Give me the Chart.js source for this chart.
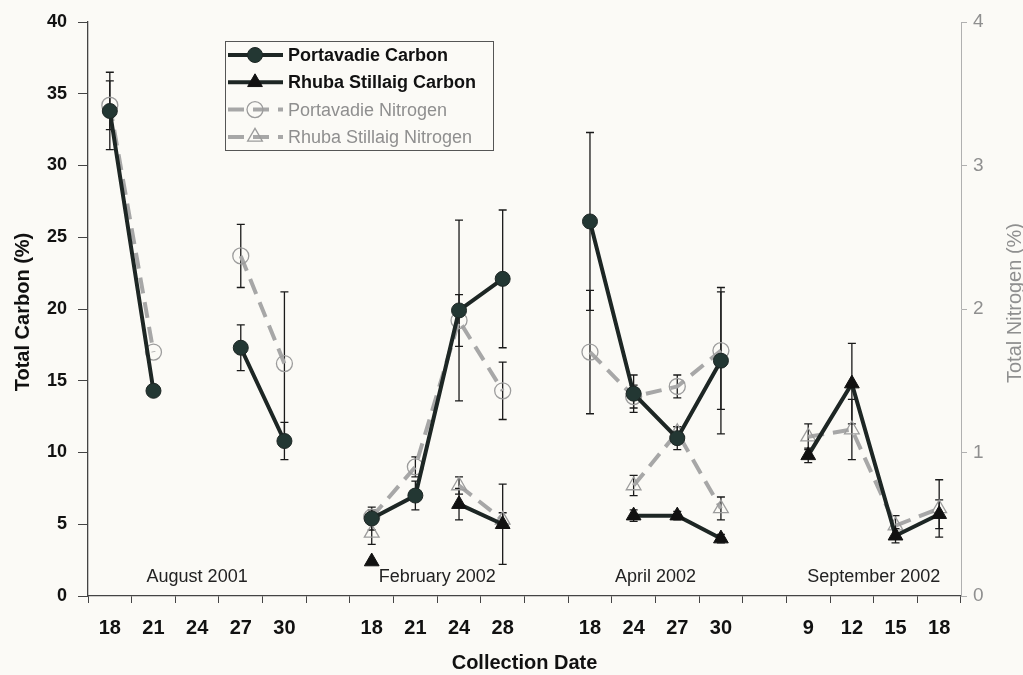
<!DOCTYPE html>
<html>
<head>
<meta charset="utf-8">
<script src="https://cdn.jsdelivr.net/npm/chart.js@4.4.0/dist/chart.umd.min.js"></script>
<style>
  html, body { margin: 0; padding: 0; background: #fbfaf6; }
  #wrap { width: 1023px; height: 675px; }
</style>
</head>
<body>
<div id="wrap"><canvas id="cnChart" width="1023" height="675"></canvas></div>
<script>
// collection dates (blank = gap between sampling months)
const dates = ['18', '21', '24', '27', '30', '', '18', '21', '24', '28', '', '18', '24', '27', '30', '', '9', '12', '15', '18'];
const months = ['August 2001', 'February 2002', 'April 2002', 'September 2002'];
const monthCentres = [2, 7.5, 12.5, 17.5]; // category index at middle of each month

const portaCarbon    = [33.8, 14.3, null, 17.3, 10.8, null, 5.4, 7.0, 19.9, 22.1, null, 26.1, 14.1, 11.0, 16.4, null, null, null, null, null];
const portaCarbonErr = [2.7, 0, null, 1.6, 1.3, null, 0.8, 1.0, 6.3, 4.8, null, 6.2, 1.3, 0.8, 5.1, null, null, null, null, null];
const rhubaCarbon    = [null, null, null, null, null, null, 2.4, null, 6.4, 5.0, null, null, 5.6, 5.6, 4.0, null, 9.8, 14.8, 4.2, 5.7];
const rhubaCarbonErr = [null, null, null, null, null, null, 0, null, 1.1, 2.8, null, null, 0.4, 0.3, 0.3, null, 0.5, 2.8, 0.5, 1.0];
const portaNitrogen    = [3.42, 1.70, null, 2.37, 1.62, null, 0.55, 0.90, 1.92, 1.43, null, 1.70, 1.39, 1.46, 1.71, null, null, null, null, null];
const portaNitrogenErr = [0.17, 0, null, 0.22, 0.50, null, 0.05, 0.07, 0.18, 0.20, null, 0.43, 0.08, 0.08, 0.41, null, null, null, null, null];
const rhubaNitrogen    = [null, null, null, null, null, null, 0.44, null, 0.77, 0.53, null, null, 0.77, 1.14, 0.61, null, 1.11, 1.16, 0.49, 0.61];
const rhubaNitrogenErr = [null, null, null, null, null, null, 0.08, null, 0.06, 0.05, null, null, 0.07, 0.04, 0.08, null, 0.09, 0.21, 0.07, 0.20];

const FONT = "'Liberation Sans', Arial, sans-serif";
const DARK = '#1d2624';
const DARK_FILL = '#233733';
const GREY = '#a7a7a7';
const GREY_MARK = '#9c9c9c';
const BG = '#fbfaf6';

// error bars, drawn under the markers
const errorBars = {
    id: 'errorBars',
    beforeDatasetsDraw(chart) {
        const ctx = chart.ctx;
        chart.data.datasets.forEach((ds, i) => {
            const meta = chart.getDatasetMeta(i);
            const yScale = chart.scales[ds.yAxisID];
            ctx.save();
            ctx.strokeStyle = '#1a1a1a';
            ctx.lineWidth = 1.3;
            meta.data.forEach((pt, j) => {
                const v = ds.data[j], e = ds.errs[j];
                if (v == null || !e) return;
                const top = yScale.getPixelForValue(v + e);
                const bot = yScale.getPixelForValue(v - e);
                ctx.beginPath();
                ctx.moveTo(pt.x, top); ctx.lineTo(pt.x, bot);
                ctx.moveTo(pt.x - 4, top); ctx.lineTo(pt.x + 4, top);
                ctx.moveTo(pt.x - 4, bot); ctx.lineTo(pt.x + 4, bot);
                ctx.stroke();
            });
            ctx.restore();
        });
    }
};

// month names, boxed legend and the two axis titles
const extras = {
    id: 'extras',
    beforeDraw(chart) {
        const ctx = chart.ctx;
        ctx.save();
        ctx.fillStyle = BG;
        ctx.fillRect(0, 0, chart.width, chart.height);
        ctx.restore();
    },
    afterDraw(chart) {
        const ctx = chart.ctx;
        const xs = chart.scales.x;
        const area = chart.chartArea;
        ctx.save();

        // month labels
        ctx.font = '18px ' + FONT;
        ctx.fillStyle = '#222';
        ctx.textAlign = 'center';
        ctx.textBaseline = 'middle';
        months.forEach((m, i) => {
            const lo = Math.floor(monthCentres[i]), hi = Math.ceil(monthCentres[i]);
            const x = (xs.getPixelForValue(lo) + xs.getPixelForValue(hi)) / 2;
            ctx.fillText(m, x, area.bottom - 19);
        });

        // legend
        const lx = 225, ly = 41, lw = 268, lh = 109;
        ctx.fillStyle = BG;
        ctx.fillRect(lx, ly, lw, lh);
        ctx.strokeStyle = '#555';
        ctx.lineWidth = 1;
        ctx.strokeRect(lx + 0.5, ly + 0.5, lw, lh);
        chart.data.datasets.forEach((ds, i) => {
            const y = ly + 14 + i * 27.3;
            ctx.save();
            ctx.strokeStyle = ds.borderColor;
            ctx.lineWidth = ds.borderWidth;
            ctx.setLineDash(ds.borderDash || []);
            ctx.beginPath();
            ctx.moveTo(lx + 3, y); ctx.lineTo(lx + 58, y);
            ctx.stroke();
            ctx.setLineDash([]);
            ctx.fillStyle = ds.pointBackgroundColor;
            ctx.strokeStyle = ds.pointBorderColor;
            ctx.lineWidth = ds.pointBorderWidth;
            Chart.helpers.drawPoint(ctx, { pointStyle: ds.pointStyle, radius: ds.pointRadius, borderWidth: ds.pointBorderWidth, rotation: 0 }, lx + 30, y);
            ctx.restore();
            const carbon = i < 2;
            ctx.font = (carbon ? 'bold ' : '') + '18px ' + FONT;
            ctx.fillStyle = carbon ? '#111' : '#8f8f8f';
            ctx.textAlign = 'left';
            ctx.textBaseline = 'middle';
            ctx.fillText(ds.label, lx + 63, y + 1);
        });

        // axis titles, both reading bottom to top
        ctx.textAlign = 'center';
        ctx.textBaseline = 'middle';
        ctx.save();
        ctx.translate(23, 312);
        ctx.rotate(-Math.PI / 2);
        ctx.font = 'bold 20px ' + FONT;
        ctx.fillStyle = '#111';
        ctx.fillText('Total Carbon (%)', 0, 0);
        ctx.restore();

        ctx.translate(1015, 303);
        ctx.rotate(-Math.PI / 2);
        ctx.font = '20px ' + FONT;
        ctx.fillStyle = '#8f8f8f';
        ctx.fillText('Total Nitrogen (%)', 0, 0);
        ctx.restore();
    }
};

const ctx = document.getElementById('cnChart').getContext('2d');
new Chart(ctx, {
    type: 'line',
    data: {
        labels: dates,
        datasets: [
            {
                label: 'Portavadie Carbon',
                data: portaCarbon,
                errs: portaCarbonErr,
                yAxisID: 'y',
                borderColor: DARK,
                borderWidth: 4,
                pointStyle: 'circle',
                pointRadius: 7.5,
                pointBackgroundColor: DARK_FILL,
                pointBorderColor: DARK,
                pointBorderWidth: 1
            },
            {
                label: 'Rhuba Stillaig Carbon',
                data: rhubaCarbon,
                errs: rhubaCarbonErr,
                yAxisID: 'y',
                borderColor: DARK,
                borderWidth: 4,
                pointStyle: 'triangle',
                pointRadius: 8.5,
                pointBackgroundColor: '#111',
                pointBorderColor: '#111',
                pointBorderWidth: 1
            },
            {
                label: 'Portavadie Nitrogen',
                data: portaNitrogen,
                errs: portaNitrogenErr,
                yAxisID: 'y1',
                borderColor: GREY,
                borderWidth: 4,
                borderDash: [16, 9],
                pointStyle: 'circle',
                pointRadius: 8,
                pointBackgroundColor: 'rgba(0,0,0,0)',
                pointBorderColor: GREY_MARK,
                pointBorderWidth: 1.3
            },
            {
                label: 'Rhuba Stillaig Nitrogen',
                data: rhubaNitrogen,
                errs: rhubaNitrogenErr,
                yAxisID: 'y1',
                borderColor: GREY,
                borderWidth: 4,
                borderDash: [16, 9],
                pointStyle: 'triangle',
                pointRadius: 8.5,
                pointBackgroundColor: 'rgba(0,0,0,0)',
                pointBorderColor: GREY_MARK,
                pointBorderWidth: 1.3
            }
        ]
    },
    options: {
        responsive: false,
        animation: false,
        devicePixelRatio: 1,
        spanGaps: false,
        layout: { padding: { top: 22 } },
        plugins: {
            legend: { display: false },
            tooltip: { enabled: false }
        },
        scales: {
            x: {
                offset: true,
                grid: { offset: true, drawOnChartArea: false, drawTicks: true, tickLength: 7, color: '#444' },
                border: { display: true, color: '#444', width: 1.3 },
                ticks: { autoSkip: false, maxRotation: 0, padding: 13, color: '#111', font: { family: FONT, size: 20, weight: 'bold' } },
                title: { display: true, text: 'Collection Date', color: '#111', padding: { top: 4, bottom: 0 }, font: { family: FONT, size: 20, weight: 'bold' } },
                afterFit: s => { s.height = 79; }
            },
            y: {
                position: 'left',
                min: 0, max: 40,
                ticks: { stepSize: 5, padding: 11, color: '#111', font: { family: FONT, size: 18, weight: 'bold' } },
                grid: { drawOnChartArea: false, drawTicks: true, tickLength: 10, color: '#444' },
                border: { display: true, color: '#444', width: 1.3 },
                afterFit: s => { s.width = 88; }
            },
            y1: {
                position: 'right',
                min: 0, max: 4,
                ticks: { stepSize: 1, padding: 6, color: '#8f8f8f', font: { family: FONT, size: 19 } },
                grid: { drawOnChartArea: false, drawTicks: true, tickLength: 6, color: '#b0b0b0' },
                border: { display: true, color: '#b0b0b0', width: 1 },
                afterFit: s => { s.width = 62; }
            }
        }
    },
    plugins: [errorBars, extras]
});
</script>
</body>
</html>
